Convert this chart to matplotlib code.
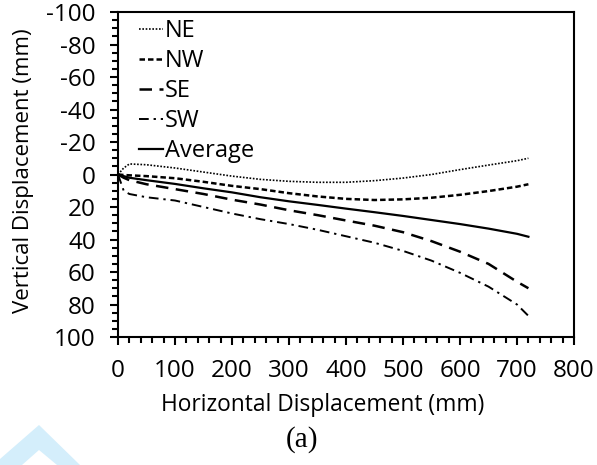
import matplotlib
matplotlib.use("Agg")
import matplotlib.pyplot as plt
from matplotlib.patches import Polygon
from matplotlib.ticker import MultipleLocator

# Horizontal displacement (mm) and vertical displacement (mm) for each corner
x_mm = [0, 10, 20, 50, 100, 150, 200, 250, 300, 350, 400, 450, 500, 550, 600, 650, 700, 720]
ne = [0, -4, -6.5, -6, -4, -1.5, 1, 3, 4.2, 4.8, 4.8, 3.8, 2.2, 0, -3, -5.8, -8.5, -10]
nw = [0, 0.3, 0.5, 1, 2.3, 4.5, 7, 9, 11.5, 13.5, 15, 15.7, 15.3, 14.3, 12.5, 10.2, 7.5, 6]
se = [0, 2, 3.5, 6, 9, 12, 15.5, 18.5, 22, 25, 28.3, 31.5, 35.5, 41, 47.5, 55, 66, 70]
sw = [0, 10, 12, 14, 16, 20, 24, 27.5, 30.5, 34, 38, 42, 47, 53, 60.5, 69, 80, 87]
avg = [0, 1, 2, 3.5, 5.8, 8.5, 11, 14, 16.5, 18.7, 21, 23.2, 25.5, 28, 30.5, 33.3, 36.5, 38.3]

series = [
    ("NE", ne, (0, (1, 1)), 1.2),
    ("NW", nw, (0, (2.2, 1.2)), 1.8),
    ("SE", se, (0, (5, 3)), 1.8),
    ("SW", sw, (0, (5, 2.5, 1.2, 2.5)), 1.4),
    ("Average", avg, "-", 1.6),
]

plt.rcParams["font.family"] = ["Open Sans", "DejaVu Sans"]
plt.rcParams["axes.unicode_minus"] = False

fig = plt.figure(figsize=(5.97, 4.65), dpi=100)
ax = fig.add_axes([118 / 597, 1 - 337 / 465, 456 / 597, 325 / 465])

for label, ys, ls, lw in series:
    ax.plot(x_mm, ys, color="black", linestyle=ls, linewidth=lw, label=label)

ax.set_xlim(0, 800)
ax.set_ylim(100, -100)
ax.xaxis.set_major_locator(MultipleLocator(100))
ax.xaxis.set_minor_locator(MultipleLocator(20))
ax.yaxis.set_major_locator(MultipleLocator(20))
ax.yaxis.set_minor_locator(MultipleLocator(5))
ax.tick_params(which="major", direction="out", length=6, width=1.5, labelsize=17.5, pad=10)
ax.tick_params(which="minor", direction="out", length=4, width=1.5)
for sp in ax.spines.values():
    sp.set_linewidth(1.5)

leg = ax.legend(loc="upper left", frameon=False, fontsize=17, handlelength=1.0,
                handletextpad=0.1, labelspacing=0.26, borderaxespad=0.3,
                bbox_to_anchor=(0.01, 1.03))

fig.text(24 / 597, 1 - 171 / 465, "Vertical Displacement (mm)", rotation=90,
         ha="center", va="center", fontsize=16)
fig.text(323 / 597, 1 - 405 / 465, "Horizontal Displacement (mm)",
         ha="center", va="center", fontsize=16.4)
fig.text(302 / 597, 1 - 440 / 465, "(a)", ha="center", va="center",
         fontsize=21, family="Liberation Serif")

# faint watermark fragment in the lower-left corner
wm_outer = Polygon([(0, 1 - 459 / 465), (39 / 597, 1 - 425 / 465), (80 / 597, 0), (0, 0)],
                   closed=True, transform=fig.transFigure, color="#d4eefb", lw=0)
wm_inner = Polygon([(22 / 597, 0), (39 / 597, 1 - 450 / 465), (57 / 597, 0)],
                   closed=True, transform=fig.transFigure, color="white", lw=0)
fig.patches.extend([wm_outer, wm_inner])

fig.savefig("out.png", dpi=100)
